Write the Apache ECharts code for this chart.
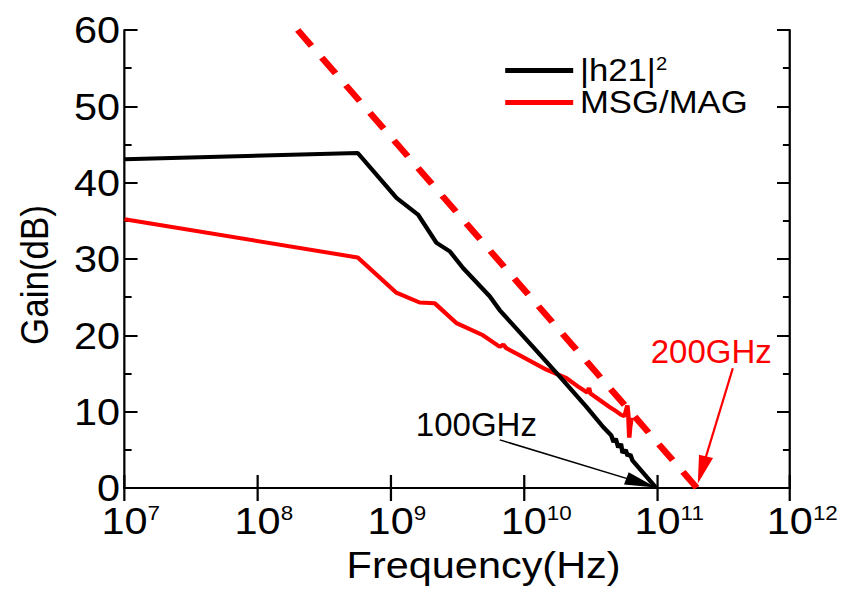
<!DOCTYPE html>
<html>
<head>
<meta charset="utf-8">
<script src="https://cdn.jsdelivr.net/npm/echarts@6/dist/echarts.min.js"></script>
<style>
  html, body { margin: 0; padding: 0; background: #fff; overflow: hidden; }
  #wrap { width: 848px; height: 593px; overflow: hidden; }
  /* the figure is drawn slightly narrower and widened horizontally, like the exported plot */
  #chart { width: 757px; height: 593px; transform: scaleX(1.1202); transform-origin: 0 0; }
</style>
</head>
<body>
<div id="wrap"><div id="chart"></div></div>
<script>
// |h21|^2 current gain
const h21Freq = [1e7, 5.64e8, 1.107e9, 1.607e9, 2.21e9, 2.78e9, 3.5e9, 5.55e9, 6.59e9, 1.17e10,
  1.86e10, 2.95e10, 3.94e10, 4.54e10, 4.73e10, 4.9e10, 5.13e10, 5.37e10, 5.52e10, 5.82e10,
  6.03e10, 6.31e10, 6.56e10, 9.9e10];
const h21Gain = [43.06, 43.9, 38.0, 35.8, 32.1, 31.0, 28.8, 25.1, 23.3, 18.5,
  14.6, 10.65, 8.0, 6.9, 6.0, 6.5, 5.3, 5.8, 4.6, 5.0,
  4.2, 4.4, 3.6, 0.0];

// MSG/MAG power gain
const msgFreq = [1e7, 5.64e8, 1.1e9, 1.65e9, 2.14e9, 3.12e9, 4.94e9, 6.59e9, 7.0e9, 7.4e9,
  9.3e9, 1.48e10, 2.09e10, 2.6e10, 3.0e10, 3.09e10, 3.16e10, 4.42e10, 5.0e10, 5.37e10,
  5.71e10, 6.0e10, 6.1e10, 6.2e10, 6.3e10, 6.45e10];
const msgGain = [35.2, 30.2, 25.6, 24.3, 24.2, 21.6, 20.0, 18.5, 18.8, 18.3,
  17.4, 15.5, 14.4, 13.2, 12.5, 13.1, 12.4, 10.6, 10.0, 9.6,
  9.4, 10.8, 9.6, 6.6, 8.0, 9.2];

// -20 dB/decade extrapolation to fmax
const fmaxFreq = [2e8, 2e11];
const fmaxGain = [60, 0];

// axis ticks
const yTicks = [0, 10, 20, 30, 40, 50, 60];
const xMin = 1e7, xMax = 1e12;

const SX = 1.1202;
const FONT = '"Liberation Sans", Arial, Helvetica, sans-serif';
const ARROW = 'path://M5 0 L10 30 L0 30 Z';

const zip = (xs, ys) => xs.map((x, i) => [x, ys[i]]);

const chart = echarts.init(document.getElementById('chart'), null, { renderer: 'svg' });

const axisLineStyle = { color: '#000', width: 2 };
const xTickLabel = v => {
  const e = String(Math.round(Math.log10(v)));
  return '{b' + e.length + '|10}{s|' + e + '}';
};

const option = {
  backgroundColor: '#fff',
  animation: false,
  textStyle: { fontFamily: FONT, color: '#000' },
  grid: { left: 111.2, right: 51.8, top: 30, bottom: 105, containLabel: false },
  legend: {
    orient: 'vertical',
    left: 451,
    top: 55,
    padding: 0,
    itemWidth: 60.7,
    itemHeight: 5,
    itemGap: 1,
    icon: 'rect',
    data: ['|h21|²', 'MSG/MAG'],
    formatter: n => n === '|h21|²' ? '{n||h21|}{s|2}' : '{n|' + n + '}',
    textStyle: {
      color: '#000', fontFamily: FONT, fontSize: 31, padding: [0, 0, 0, 1],
      rich: {
        n: { fontSize: 31, fontFamily: FONT, color: '#000', lineHeight: 31, verticalAlign: 'bottom' },
        s: { fontSize: 18, fontFamily: FONT, color: '#000', verticalAlign: 'top', lineHeight: 18 }
      }
    }
  },
  xAxis: [{
    type: 'log', logBase: 10, min: xMin, max: xMax, position: 'bottom',
    axisLine: { lineStyle: axisLineStyle },
    axisTick: { inside: true, length: 13, lineStyle: { width: 2, color: '#000' } },
    minorTick: { show: false },
    splitLine: { show: false },
    axisLabel: {
      formatter: xTickLabel, margin: 15, color: '#000',
      rich: {
        b1: { fontSize: 37, fontFamily: FONT, color: '#000', lineHeight: 36, verticalAlign: 'bottom', padding: [0, 0, 0, 11] },
        b2: { fontSize: 37, fontFamily: FONT, color: '#000', lineHeight: 36, verticalAlign: 'bottom', padding: [0, 0, 0, 22] },
        s: { fontSize: 20, fontFamily: FONT, color: '#000', lineHeight: 20, verticalAlign: 'top', padding: [0, 0, 0, 0] }
      }
    },
    name: 'Frequency(Hz)', nameLocation: 'middle', nameGap: 58,
    nameTextStyle: { fontSize: 37, fontFamily: FONT, color: '#000', padding: [0, 0, 0, 47] }
  }, {
    type: 'log', logBase: 10, min: xMin, max: xMax, position: 'top',
    axisLine: { lineStyle: axisLineStyle },
    axisTick: { inside: true, length: 13, lineStyle: { width: 2, color: '#000' } },
    axisLabel: { show: false },
    splitLine: { show: false }
  }],
  yAxis: [{
    type: 'value', min: yTicks[0], max: yTicks[yTicks.length - 1], interval: 10, position: 'left',
    axisLine: { show: true, lineStyle: axisLineStyle },
    axisTick: { show: true, inside: true, length: 11.6, lineStyle: { width: 2, color: '#000' } },
    minorTick: { show: true, splitNumber: 2, length: 6.3, lineStyle: { width: 2, color: '#000' } },
    splitLine: { show: false },
    axisLabel: { fontSize: 37, lineHeight: 26, fontFamily: FONT, color: '#000', margin: 4 },
    name: 'Gain(dB)', nameLocation: 'middle', nameGap: 63,
    nameTextStyle: { fontSize: 35, fontFamily: FONT, color: '#000', padding: [0, 32, 0, 0] }
  }, {
    type: 'value', min: yTicks[0], max: yTicks[yTicks.length - 1], interval: 10, position: 'right',
    axisLine: { show: true, lineStyle: axisLineStyle },
    axisTick: { show: true, inside: true, length: 11.6, lineStyle: { width: 2, color: '#000' } },
    minorTick: { show: true, splitNumber: 2, length: 6.3, lineStyle: { width: 2, color: '#000' } },
    splitLine: { show: false },
    axisLabel: { show: false }
  }],
  series: [{
    name: 'fmax', type: 'line', data: zip(fmaxFreq, fmaxGain),
    showSymbol: false, silent: true, z: 1,
    lineStyle: { color: '#ff0000', width: 6, type: [20, 15] }
  }, {
    name: 'MSG/MAG', type: 'line', data: zip(msgFreq, msgGain),
    showSymbol: false, silent: true, z: 2,
    itemStyle: { color: '#ff0000' },
    lineStyle: { color: '#ff0000', width: 4 },
    markLine: {
      silent: true, animation: false,
      symbol: ['none', ARROW], symbolSize: 28,
      label: { show: false },
      lineStyle: { color: '#ff0000', width: 2, type: 'solid' },
      data: [[{ coord: [3.72e11, 15.7] }, { coord: [2.18e11, 2.37], symbol: ARROW, symbolSize: [13, 28] }]]
    }
  }, {
    name: '|h21|²', type: 'line', data: zip(h21Freq, h21Gain),
    showSymbol: false, silent: true, z: 3,
    itemStyle: { color: '#000' },
    lineStyle: { color: '#000', width: 4 },
    markLine: {
      silent: true, animation: false,
      symbol: ['none', ARROW], symbolSize: 28,
      label: { show: false },
      lineStyle: { color: '#000', width: 1.5, type: 'solid' },
      data: [[{ coord: [6.6e9, 6.3] }, { coord: [7.62e10, 0.67], symbol: ARROW, symbolSize: [13, 28] }]]
    }
  }]
};

chart.setOption(option);

// frequency annotations, anchored in data space and drawn without the horizontal widening
const notes = [
  { text: '100GHz', at: [4.4e9, 8.38], color: '#000' },
  { text: '200GHz', at: [2.56e11, 17.86], color: '#ff0000' }
];
chart.setOption({
  graphic: notes.map(n => {
    const p = chart.convertToPixel({ xAxisIndex: 0, yAxisIndex: 0 }, n.at);
    return {
      type: 'text', x: p[0], y: p[1], scaleX: 1 / SX, silent: true, z: 10,
      style: {
        text: n.text, fill: n.color, fontSize: 33, fontFamily: FONT,
        align: 'center', verticalAlign: 'middle', textAlign: 'center', textVerticalAlign: 'middle'
      }
    };
  })
});
</script>
</body>
</html>
